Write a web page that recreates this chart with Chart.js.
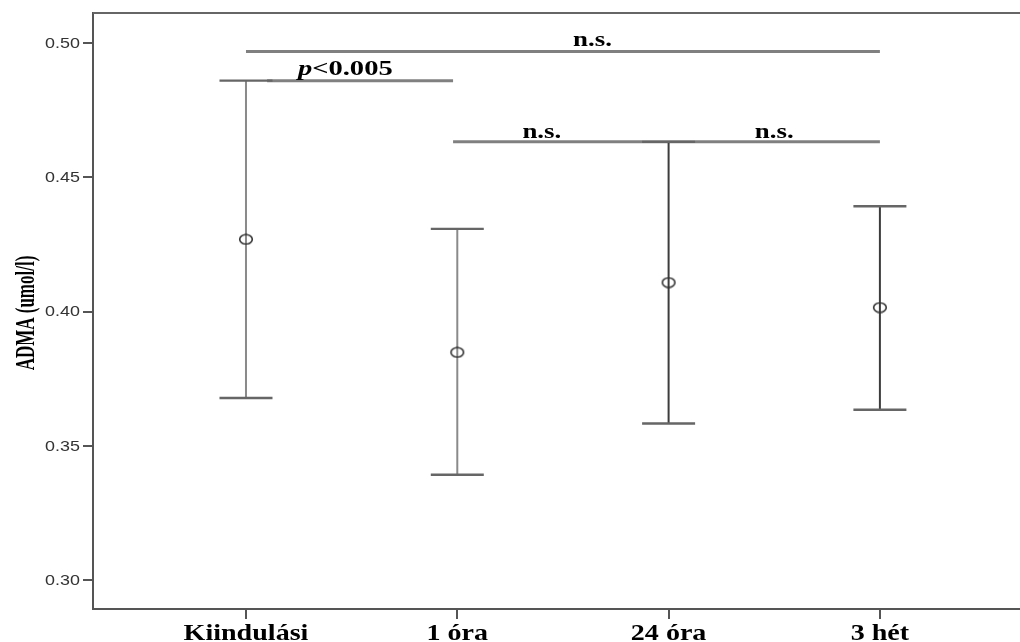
<!DOCTYPE html>
<html>
<head>
<meta charset="utf-8">
<script src="https://cdn.jsdelivr.net/npm/chart.js@4"></script>
<style>
  body { margin: 0; background: #fff; }
  canvas { display: block; }
</style>
</head>
<body>
<canvas id="grafico" width="1020" height="642"></canvas>
<script>
// dados
const categorias = ['Kiindulási', '1 óra', '24 óra', '3 hét']
const medias = [0.4269, 0.3848, 0.4108, 0.4015]
const superior = [0.4860, 0.4308, 0.4632, 0.4392]
const inferior = [0.3678, 0.3392, 0.3583, 0.3634]
const ticksY = [0.30, 0.35, 0.40, 0.45, 0.50]

// comparacoes (inicio, fim em posicao de categoria, nivel em umol/l)
const compInicio = [1, 1.10, 1.98]
const compFim = [4.0, 1.98, 4.0]
const compNivel = [0.4969, 0.4860, 0.4632]
const compTexto = ['n.s.', 'p<0.005', 'n.s.']
// rotulos n.s. da linha do meio ficam em duas posicoes
const rotulosX = [[2.64], [1.47], [2.40, 3.50]]

const corBarras = ['#8a8a8a', '#8a8a8a', '#3c3c3c', '#3c3c3c']
const esticar = 1.28

function textoEsticado(ctx, txt, x, y, fonte, sx, align, base) {
    ctx.save()
    ctx.translate(x, y)
    ctx.scale(sx, 1)
    ctx.font = fonte
    ctx.textAlign = align || 'center'
    ctx.textBaseline = base || 'alphabetic'
    ctx.fillText(txt, 0, 0)
    ctx.restore()
}

// marcador da media: circulo um pouco achatado
const marcador = document.createElement('canvas')
marcador.width = 16
marcador.height = 12
const mctx = marcador.getContext('2d')
mctx.strokeStyle = '#333'
mctx.lineWidth = 1.6
mctx.beginPath()
mctx.ellipse(8, 6, 6.3, 4.8, 0, 0, Math.PI * 2)
mctx.stroke()

const desenhos = {
    id: 'desenhos',
    beforeDatasetsDraw(chart) {
        const ctx = chart.ctx
        const xs = chart.scales.x
        const ys = chart.scales.y
        ctx.save()
        // comparacoes
        ctx.strokeStyle = '#808080'
        ctx.lineWidth = 3
        for (var i = 0; i < compNivel.length; i++) {
            const y = ys.getPixelForValue(compNivel[i])
            ctx.beginPath()
            ctx.moveTo(xs.getPixelForValue(compInicio[i]), y)
            ctx.lineTo(xs.getPixelForValue(compFim[i]), y)
            ctx.stroke()
        }
        // barras de erro
        for (var i = 0; i < categorias.length; i++) {
            const x = xs.getPixelForValue(i + 1)
            const yt = ys.getPixelForValue(superior[i])
            const yb = ys.getPixelForValue(inferior[i])
            ctx.strokeStyle = corBarras[i]
            ctx.lineWidth = 2
            ctx.beginPath()
            ctx.moveTo(x, yt)
            ctx.lineTo(x, yb)
            ctx.stroke()
            ctx.strokeStyle = '#666'
            ctx.lineWidth = 2.4
            ctx.beginPath()
            ctx.moveTo(x - 26.5, yt)
            ctx.lineTo(x + 26.5, yt)
            ctx.moveTo(x - 26.5, yb)
            ctx.lineTo(x + 26.5, yb)
            ctx.stroke()
        }
        ctx.restore()
    },
    afterDraw(chart) {
        const ctx = chart.ctx
        const xs = chart.scales.x
        const ys = chart.scales.y
        const area = chart.chartArea
        ctx.save()
        // borda de cima
        ctx.strokeStyle = '#666'
        ctx.lineWidth = 2
        ctx.beginPath()
        ctx.moveTo(area.left, area.top)
        ctx.lineTo(area.right, area.top)
        ctx.stroke()

        ctx.fillStyle = '#000'
        // textos das comparacoes
        for (var i = 0; i < compTexto.length; i++) {
            const y = ys.getPixelForValue(compNivel[i])
            rotulosX[i].forEach(function (px) {
                const x = xs.getPixelForValue(px)
                if (compTexto[i].charAt(0) == 'p') {
                    const f1 = 'italic bold 21px "Liberation Serif"'
                    const f2 = 'bold 21px "Liberation Serif"'
                    ctx.font = f1
                    const w1 = ctx.measureText('p').width
                    ctx.font = f2
                    const w2 = ctx.measureText(compTexto[i].slice(1)).width
                    const s = 1.36
                    const x0 = x - (w1 + w2) * s / 2
                    textoEsticado(ctx, 'p', x0, y - 6, f1, s, 'left')
                    textoEsticado(ctx, compTexto[i].slice(1), x0 + w1 * s, y - 6, f2, s, 'left')
                } else {
                    const gap = i == 0 ? 5 : 4
                    textoEsticado(ctx, compTexto[i], x, y - gap, 'bold 21px "Liberation Serif"', esticar)
                }
            })
        }

        // rotulos do eixo x
        categorias.forEach(function (c, i) {
            textoEsticado(ctx, c, xs.getPixelForValue(i + 1), 640, 'bold 23px "Liberation Serif"', 1.22)
        })

        // rotulos do eixo y
        ctx.fillStyle = '#333'
        ticksY.forEach(function (v) {
            textoEsticado(ctx, v.toFixed(2), 80, ys.getPixelForValue(v) + 1, '14px "Liberation Sans"', esticar, 'right', 'middle')
        })

        // titulo do eixo y
        ctx.fillStyle = '#000'
        ctx.translate(34, 313)
        ctx.rotate(-Math.PI / 2)
        ctx.scale(1, 1.65)
        ctx.font = 'bold 17px "Liberation Serif"'
        ctx.textAlign = 'center'
        ctx.textBaseline = 'alphabetic'
        ctx.fillText('ADMA (umol/l)', 0, 0)
        ctx.restore()
    }
}

const dadosGrafico = {
    datasets: [{
        label: 'ADMA',
        data: categorias.map(function (c, i) { return { x: i + 1, y: medias[i] } }),
        pointStyle: marcador,
        pointRadius: 6,
        showLine: false
    }]
}

const configGrafico = {
    type: 'scatter',
    data: dadosGrafico,
    options: {
        responsive: false,
        animation: false,
        devicePixelRatio: 1,
        layout: { autoPadding: false, padding: { top: 13, right: 0, bottom: 0, left: 0 } },
        plugins: { legend: { display: false }, tooltip: { enabled: false } },
        scales: {
            x: {
                type: 'linear',
                min: 0.276,
                max: 4.663,
                grid: { drawOnChartArea: false, drawTicks: true, tickLength: 10, color: '#555', lineWidth: 2 },
                border: { display: true, color: '#555', width: 2 },
                ticks: { display: false },
                afterBuildTicks: function (s) { s.ticks = [1, 2, 3, 4].map(function (v) { return { value: v } }) },
                afterFit: function (s) { s.height = 33 }
            },
            y: {
                type: 'linear',
                min: 0.2892,
                max: 0.5112,
                grid: { drawOnChartArea: false, drawTicks: true, tickLength: 10, color: '#555', lineWidth: 2 },
                border: { display: true, color: '#555', width: 2 },
                ticks: { display: false },
                afterBuildTicks: function (s) { s.ticks = ticksY.map(function (v) { return { value: v } }) },
                afterFit: function (s) { s.width = 93 }
            }
        }
    },
    plugins: [desenhos]
}

const meuGrafico = new Chart(document.getElementById('grafico'), configGrafico)
</script>
</body>
</html>
